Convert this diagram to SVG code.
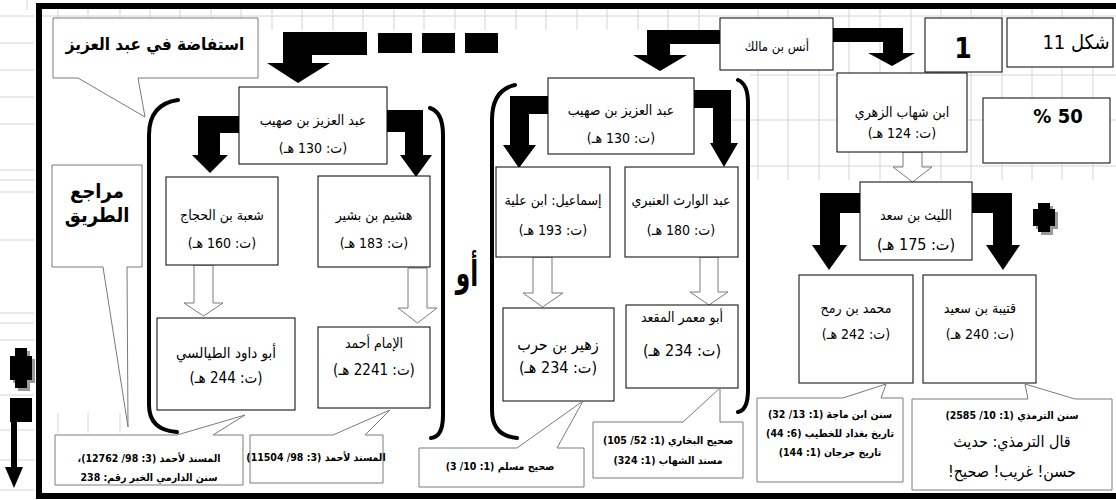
<svg xmlns="http://www.w3.org/2000/svg" width="1116" height="500" viewBox="0 0 1116 500">
<style>
.grid line{stroke:#d4d4d4;stroke-width:1}
.node rect{fill:#fff;stroke:#000;stroke-width:1}
.call{fill:#fff;stroke:#7a7a7a;stroke-width:1}
.t{font-family:"DejaVu Sans Condensed","DejaVu Sans",sans-serif;fill:#000;text-anchor:middle;direction:rtl}
.n{font-size:14px}
.b{font-weight:bold}
.s{font-size:10.5px;font-weight:bold}
.bent{fill:#000}
.hollow{fill:#fff;stroke:#7a7a7a;stroke-width:1}
.br{fill:none;stroke:#000;stroke-width:4;stroke-linecap:round}
</style>
<rect width="1116" height="500" fill="#fff"/>
<g class="grid">
<line x1="0" y1="16" x2="34" y2="16"/><line x1="0" y1="43" x2="34" y2="43"/><line x1="0" y1="70" x2="34" y2="70"/><line x1="0" y1="97" x2="34" y2="97"/><line x1="0" y1="124" x2="34" y2="124"/><line x1="0" y1="170" x2="34" y2="170"/><line x1="0" y1="180" x2="34" y2="180"/><line x1="0" y1="192" x2="34" y2="192"/><line x1="0" y1="240" x2="34" y2="240"/><line x1="0" y1="313" x2="34" y2="313"/><line x1="0" y1="323" x2="34" y2="323"/><line x1="0" y1="340" x2="34" y2="340"/><line x1="0" y1="395" x2="34" y2="395"/><line x1="0" y1="430" x2="34" y2="430"/><line x1="0" y1="460" x2="34" y2="460"/><line x1="0" y1="490" x2="34" y2="490"/>
<line x1="27" y1="0" x2="27" y2="10"/>
<line x1="42" y1="16" x2="1116" y2="16"/>
<line x1="58" y1="9" x2="58" y2="18"/><line x1="88" y1="9" x2="88" y2="18"/><line x1="120" y1="9" x2="120" y2="18"/><line x1="150" y1="9" x2="150" y2="18"/><line x1="180" y1="9" x2="180" y2="18"/><line x1="211" y1="9" x2="211" y2="18"/><line x1="241" y1="9" x2="241" y2="18"/><line x1="272" y1="9" x2="272" y2="30"/><line x1="302" y1="9" x2="302" y2="30"/><line x1="333" y1="9" x2="333" y2="30"/><line x1="363" y1="9" x2="363" y2="30"/><line x1="394" y1="9" x2="394" y2="30"/><line x1="424" y1="9" x2="424" y2="30"/><line x1="455" y1="9" x2="455" y2="30"/><line x1="485" y1="9" x2="485" y2="30"/><line x1="516" y1="9" x2="516" y2="30"/><line x1="546" y1="9" x2="546" y2="30"/><line x1="577" y1="9" x2="577" y2="30"/><line x1="607" y1="9" x2="607" y2="30"/><line x1="638" y1="9" x2="638" y2="30"/><line x1="668" y1="9" x2="668" y2="30"/><line x1="699" y1="9" x2="699" y2="30"/>
<line x1="758" y1="9" x2="758" y2="180"/><line x1="788" y1="9" x2="788" y2="180"/><line x1="819" y1="9" x2="819" y2="180"/><line x1="849" y1="9" x2="849" y2="180"/><line x1="880" y1="9" x2="880" y2="180"/><line x1="911" y1="9" x2="911" y2="180"/><line x1="941" y1="9" x2="941" y2="180"/><line x1="971" y1="9" x2="971" y2="180"/><line x1="1002" y1="9" x2="1002" y2="180"/><line x1="1032" y1="9" x2="1032" y2="180"/><line x1="1062" y1="9" x2="1062" y2="180"/><line x1="1093" y1="9" x2="1093" y2="180"/>
<line x1="727" y1="120" x2="1116" y2="120"/><line x1="750" y1="75" x2="1116" y2="75"/><line x1="750" y1="166" x2="1116" y2="166"/>
<line x1="58" y1="413" x2="58" y2="433"/><line x1="88" y1="413" x2="88" y2="433"/><line x1="120" y1="413" x2="120" y2="433"/>
</g>
<rect x="39" y="6" width="1100" height="490" fill="none" stroke="#000" stroke-width="6"/>
<g id="connectors">
<polygon class="bent" points="367,32 283,32 283,63 267,63 298,83 330,63 312,63 312,55 367,55"/>
<rect class="bent" x="378" y="33" width="34" height="20"/>
<rect class="bent" x="422" y="33" width="33" height="20"/>
<rect class="bent" x="465" y="33" width="33" height="20"/>
<polygon class="bent" points="720,30 647,30 647,55 633,55 660,71 687,55 670,55 670,44 720,44"/>
<polygon class="bent" points="833,28 903,28 903,53 915,53 892,66 868,53 883,53 883,42 833,42"/>
<polygon class="bent" points="239,116 198,116 198,155 192,155 210,173 228,155 220,155 220,133 239,133"/>
<polygon class="bent" points="387,110 423,110 423,155 432,155 416,177 400,155 405,155 405,132 387,132"/>
<polygon class="bent" points="548,96 510,96 510,145 503,145 519,168 536,145 529,145 529,114 548,114"/>
<polygon class="bent" points="693,90 731,90 731,143 738,143 724,167 710,143 713,143 713,108 693,108"/>
<polygon class="bent" points="860,193 820,193 820,245 812,245 829,270 847,245 840,245 840,213 860,213"/>
<polygon class="bent" points="972,193 1012,193 1012,245 1020,245 1003,270 986,245 993,245 993,213 972,213"/>
<polygon class="hollow" points="903,152 922,152 922,167 932,167 912.5,182 893,167 903,167"/>
<polygon class="hollow" points="194,265 213,265 213,303 223,303 203.5,316 184,303 194,303"/>
<polygon class="hollow" points="408,268 427,268 427,308 437,308 417.5,323 398,308 408,308"/>
<polygon class="hollow" points="533,257 552,257 552,293 563,293 542.5,307 523,293 533,293"/>
<polygon class="hollow" points="700,257 718,257 718,292 728,292 709,305 690,292 700,292"/>
<path class="br" d="M178,100 Q149,104 149,135 L149,405 Q149,430 177,432"/>
<path class="br" d="M430,108 Q443,112 443,135 L443,415 Q443,437 431,438"/>
<path class="br" d="M515,85 Q492,90 492,120 L492,410 Q492,436 517,438"/>
<path class="br" d="M738,80 Q748,84 748,103 L748,390 Q748,410 738,412"/>
</g>
<g id="crosses">
<polygon fill="#9a9a9a" points="18,351 30,351 30,359 35,359 35,383 30,383 30,391 18,391 18,383 13,383 13,359 18,359"/>
<polygon fill="#000" points="15,348 27,348 27,356 32,356 32,380 27,380 27,388 15,388 15,380 10,380 10,356 15,356"/>
<polygon fill="#9a9a9a" points="1041,206 1053,206 1053,212 1058,212 1058,229 1053,229 1053,235 1041,235 1041,229 1036,229 1036,212 1041,212"/>
<polygon fill="#000" points="1038,203 1050,203 1050,209 1055,209 1055,226 1050,226 1050,232 1038,232 1038,226 1033,226 1033,209 1038,209"/>
<polygon fill="#000" points="10,398 32,398 32,422 17,422 17,467 23,467 14,488 5,467 11,467 11,422 10,422"/>
</g>
<g id="title">
<path class="call" d="M53,18 H258 V78 H138 L145,117 L78,78 H53 Z"/>
<text class="t b" x="155" y="50" font-size="17">استفاضة في عبد العزيز</text>
</g>
<g id="refs">
<path class="call" d="M52,165 H142 V267 H127 L128,427 L103,267 H52 Z"/>
<text class="t b" x="97" y="198" font-size="20">مراجع</text>
<text class="t b" x="97" y="222" font-size="20">الطريق</text>
</g>
<g id="fig-no">
<rect x="1007" y="18" width="106" height="49" fill="#fff" stroke="#000"/>
<text class="t" x="1076" y="49" font-size="20">شكل 11</text>
</g>
<g id="num">
<rect x="925" y="18" width="77" height="54" fill="#fff" stroke="#000"/>
<text class="t b" x="963" y="58" font-size="28">1</text>
</g>
<g id="pct">
<rect x="983" y="98" width="127" height="65" fill="#fff" stroke="#000"/>
<text class="t b" x="1058" y="123" font-size="20">50 %</text>
</g>
<g id="anas" class="node">
<rect x="720" y="18" width="113" height="52"/>
<text class="t" x="777" y="51" font-size="13">أنس بن مالك</text>
</g>
<g id="zuhri" class="node">
<rect x="837" y="73" width="130" height="79"/>
<text class="t n" x="902" y="117">ابن شهاب الزهري</text>
<text class="t n" x="902" y="138">(ت: 124 هـ)</text>
</g>
<g id="laith" class="node">
<rect x="860" y="182" width="112" height="78"/>
<text class="t n" x="916" y="220">الليث بن سعد</text>
<text class="t" x="916" y="250" font-size="16">(ت: 175 هـ)</text>
</g>
<g id="ibnrumh" class="node">
<rect x="799" y="275" width="114" height="108"/>
<text class="t n" x="856" y="313">محمد بن رمح</text>
<text class="t n" x="856" y="339">(ت: 242 هـ)</text>
</g>
<g id="qutaiba" class="node">
<rect x="923" y="275" width="113" height="108"/>
<text class="t n" x="980" y="313">قتيبة بن سعيد</text>
<text class="t n" x="980" y="339">(ت: 240 هـ)</text>
</g>
<g id="abdalaziz2" class="node">
<rect x="548" y="78" width="146" height="76"/>
<text class="t n" x="621" y="115">عبد العزيز بن صهيب</text>
<text class="t n" x="621" y="143">(ت: 130 هـ)</text>
</g>
<g id="abdalwarith" class="node">
<rect x="625" y="167" width="113" height="90"/>
<text class="t n" x="681" y="205">عبد الوارث العنبري</text>
<text class="t n" x="681" y="235">(ت: 180 هـ)</text>
</g>
<g id="ismail" class="node">
<rect x="496" y="167" width="114" height="90"/>
<text class="t n" x="553" y="205">إسماعيل:  ابن علية</text>
<text class="t n" x="553" y="235">(ت: 193 هـ)</text>
</g>
<g id="zuhair" class="node">
<rect x="503" y="308" width="111" height="93"/>
<text class="t" x="558" y="350" font-size="16">زهير بن حرب</text>
<text class="t" x="558" y="373" font-size="16">(ت: 234 هـ)</text>
</g>
<g id="abumamar" class="node">
<rect x="626" y="305" width="112" height="83"/>
<text class="t n" x="682" y="322">أبو معمر المقعد</text>
<text class="t" x="682" y="356" font-size="16">(ت: 234 هـ)</text>
</g>
<g id="abdalaziz1" class="node">
<rect x="239" y="87" width="148" height="77"/>
<text class="t n" x="313" y="125">عبد العزيز بن صهيب</text>
<text class="t n" x="313" y="153">(ت: 130 هـ)</text>
</g>
<g id="shuba" class="node">
<rect x="166" y="177" width="112" height="88"/>
<text class="t n" x="222" y="220">شعبة بن الحجاج</text>
<text class="t n" x="222" y="248">(ت: 160 هـ)</text>
</g>
<g id="hushaim" class="node">
<rect x="318" y="176" width="112" height="91"/>
<text class="t n" x="374" y="220">هشيم بن بشير</text>
<text class="t n" x="374" y="248">(ت: 183 هـ)</text>
</g>
<g id="abudawud" class="node">
<rect x="157" y="318" width="138" height="92"/>
<text class="t" x="226" y="358" font-size="15">أبو داود الطيالسي</text>
<text class="t" x="226" y="383" font-size="15">(ت: 244 هـ)</text>
</g>
<g id="ahmad" class="node">
<rect x="318" y="327" width="112" height="81"/>
<text class="t n" x="374" y="348">الإمام أحمد</text>
<text class="t" x="374" y="375" font-size="15">(ت: 2241 هـ)</text>
</g>
<g id="aw">
<text class="t b" font-size="36" transform="translate(467,286) scale(0.72,1)">أو</text>
</g>
<g id="c-abudawud">
<path class="call" d="M55,435 H177 L245,415 L213,435 H243 V485 H55 Z"/>
<text class="t s" x="149" y="462">المسند لأحمد (3: 98/ 12762)،</text>
<text class="t s" x="149" y="481">سنن الدارمي الخبر رقم: 238</text>
</g>
<g id="c-ahmad">
<path class="call" d="M250,435 H333 L390,410 L365,435 H383 V483 H250 Z"/>
<text class="t s" x="316" y="461">المسند لأحمد (3: 98/ 11504)</text>
</g>
<g id="c-zuhair">
<path class="call" d="M419,448 H517 L583,401 L557,448 H584 V487 H419 Z"/>
<text class="t s" x="500" y="470">صحيح مسلم (1: 10/ 3)</text>
</g>
<g id="c-abumamar">
<path class="call" d="M593,422 H683 L720,388 L720,422 H743 V478 H593 Z"/>
<text class="t s" x="668" y="444">صحيح البخاري (1: 52/ 105)</text>
<text class="t s" x="668" y="464">مسند الشهاب (1: 324)</text>
</g>
<g id="c-ibnrumh">
<path class="call" d="M757,398 H843 L886,384 L881,398 H903 V482 H757 Z"/>
<text class="t s" x="830" y="418">سنن ابن ماجة (1: 13/ 32)</text>
<text class="t s" x="830" y="437">تاريخ بغداد للخطيب (6: 44)</text>
<text class="t s" x="830" y="456">تاريخ جرجان (1: 144)</text>
</g>
<g id="c-qutaiba">
<path class="call" d="M912,399 H1028 L1025,384 L1075,399 H1112 V490 H912 Z"/>
<text class="t s" x="1012" y="419">سنن الترمذي (1: 10/ 2585)</text>
<text class="t" x="1012" y="447" font-size="16">قال الترمذي: حديث</text>
<text class="t" x="1012" y="477" font-size="16">حسن! غريب! صحيح!</text>
</g>
</svg>
